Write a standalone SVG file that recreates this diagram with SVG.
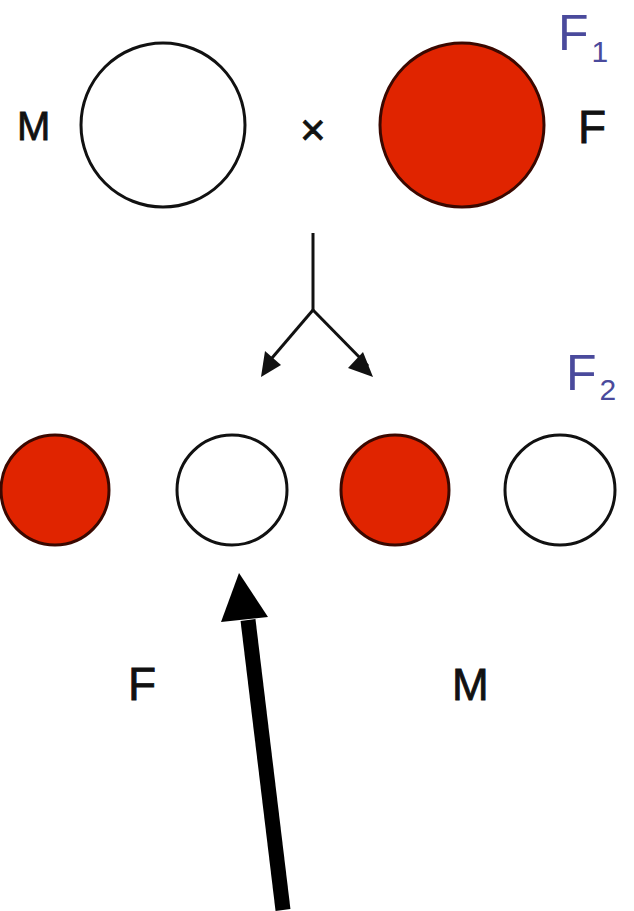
<svg xmlns="http://www.w3.org/2000/svg" width="634" height="911" viewBox="0 0 634 911">
<defs>
<style>
.w{fill:#fff;stroke:#111;stroke-width:3}
.r{fill:#e02400;stroke:#3a0800;stroke-width:3}
.t{font-family:"Liberation Sans",Arial,sans-serif;fill:#111;stroke:#111;stroke-width:0.8}
.b{font-family:"Liberation Sans",Arial,sans-serif;fill:#4a4a9c}
.c{stroke:#111;stroke-width:3;fill:none}
</style>
</defs>
<rect width="634" height="911" fill="#fff"/>
<g id="parentM"><ellipse class="w" cx="163" cy="125" rx="82" ry="82"/></g>
<g id="parentF"><ellipse class="r" cx="462" cy="125" rx="82" ry="82"/></g>
<g id="labels">
<text class="t" x="17" y="140" font-size="40">M</text>
<text class="t" x="300" y="145" font-size="44" stroke-width="0.5">×</text>
<text class="t" x="578" y="143" font-size="46">F</text>
<text class="b" x="558" y="50" font-size="50">F<tspan font-size="30" dx="3" dy="12">1</tspan></text>
<text class="b" x="566" y="390" font-size="50">F<tspan font-size="30" dx="3" dy="10">2</tspan></text>
<text class="t" x="128" y="700" font-size="46">F</text>
<text class="t" x="452" y="700" font-size="44">M</text>
</g>
<g id="o1"><ellipse class="r" cx="55" cy="490" rx="54" ry="55"/></g>
<g id="o2"><ellipse class="w" cx="232" cy="490" rx="55" ry="55"/></g>
<g id="o3"><ellipse class="r" cx="395" cy="490" rx="54" ry="55"/></g>
<g id="o4"><ellipse class="w" cx="560" cy="490" rx="55" ry="55"/></g>
<g id="connectors">
<path class="c" d="M313,233 L313,310"/>
<path class="c" d="M313,310 L266,365"/>
<path class="c" d="M313,310 L368,366"/>
<path d="M261,377 L265,351 L281,365 z" fill="#111"/>
<path d="M373,377 L348,368 L363,352 z" fill="#111"/>
<path d="M283,910 L248,620" stroke="#000" stroke-width="15" fill="none"/>
<path d="M239,573 L268,617 L221,622 z" fill="#000"/>
</g>
</svg>
